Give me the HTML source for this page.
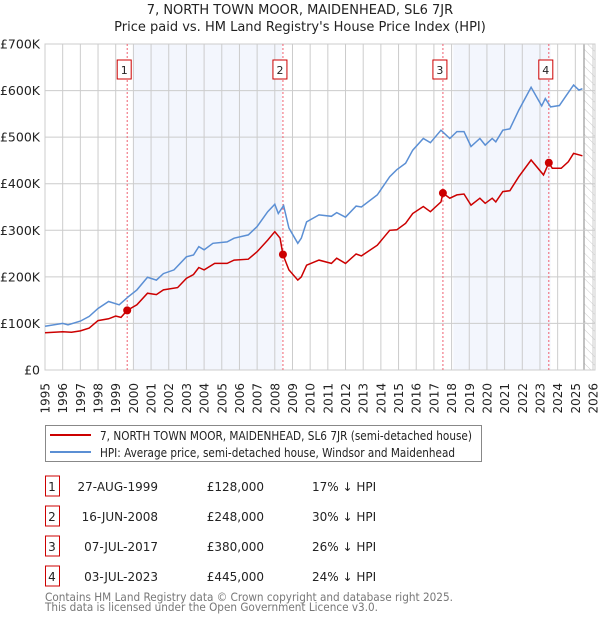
<!DOCTYPE html>
<html><head><meta charset="utf-8"><style>
body{margin:0;background:#fff;width:600px;height:620px;overflow:hidden;font-family:"DejaVu Sans","Liberation Sans",sans-serif;}
svg text{font-family:"DejaVu Sans","Liberation Sans",sans-serif;}
</style></head><body>
<svg id="chart" width="600" height="620" xmlns="http://www.w3.org/2000/svg">
<defs><pattern id="hatch" width="6" height="6" patternUnits="userSpaceOnUse" patternTransform="rotate(-45)"><line x1="0" y1="0" x2="0" y2="6" stroke="#ccc" stroke-width="1"/></pattern></defs>
<text x="300" y="14" text-anchor="middle" font-size="13" fill="#222">7, NORTH TOWN MOOR, MAIDENHEAD, SL6 7JR</text>
<text x="300" y="31" text-anchor="middle" font-size="13" fill="#222">Price paid vs. HM Land Registry's House Price Index (HPI)</text>
<g id="plot"></g>
<g>
<rect x="45.5" y="425.5" width="436" height="36" fill="#fff" stroke="#888"/>
<line x1="50" y1="435" x2="91" y2="435" stroke="#cc0000" stroke-width="2"/>
<text x="100" y="440" font-size="12" fill="#222" textLength="372" lengthAdjust="spacingAndGlyphs">7, NORTH TOWN MOOR, MAIDENHEAD, SL6 7JR (semi-detached house)</text>
<line x1="50" y1="452" x2="91" y2="452" stroke="#5b8fd4" stroke-width="2"/>
<text x="100" y="457" font-size="12" fill="#222" textLength="355" lengthAdjust="spacingAndGlyphs">HPI: Average price, semi-detached house, Windsor and Maidenhead</text>
</g>
<g id="table"></g>
<text x="45" y="601" font-size="11.5" fill="#777" textLength="408" lengthAdjust="spacingAndGlyphs">Contains HM Land Registry data © Crown copyright and database right 2025.</text>
<text x="45" y="611" font-size="11.5" fill="#777" textLength="333" lengthAdjust="spacingAndGlyphs">This data is licensed under the Open Government Licence v3.0.</text>
</svg>
<script>
const hpiYears=[1995,1996,1996.3,1997,1997.5,1998,1998.6,1999.2,1999.7,2000.2,2000.8,2001.3,2001.7,2002.3,2003,2003.4,2003.7,2004,2004.5,2005.3,2005.7,2006.5,2007,2007.6,2008,2008.2,2008.5,2008.8,2009.3,2009.5,2009.8,2010.5,2011.2,2011.5,2012,2012.6,2012.9,2013.8,2014.5,2014.9,2015.4,2015.8,2016.4,2016.8,2017.4,2017.9,2018.3,2018.7,2019.1,2019.6,2019.9,2020.3,2020.5,2020.9,2021.3,2021.8,2022.5,2023.1,2023.3,2023.6,2024.1,2024.5,2024.9,2025.2,2025.4];
const hpiValues=[94,100,97,105,115,132,147,140,157,172,199,193,207,215,243,247,265,258,272,275,283,290,308,340,356,336,353,305,272,283,318,333,330,338,328,352,350,376,415,430,444,472,497,488,515,497,512,512,480,497,483,497,490,515,518,558,607,567,583,565,568,590,612,601,604];
const paidYears=[1995,1996,1996.5,1997,1997.5,1998,1998.6,1999,1999.3,1999.65,2000.2,2000.8,2001.3,2001.7,2002.5,2003,2003.4,2003.7,2004,2004.6,2005.3,2005.7,2006.5,2007,2007.6,2008,2008.3,2008.46,2008.8,2009.3,2009.5,2009.8,2010.5,2011.2,2011.5,2012,2012.6,2012.9,2013.8,2014.5,2014.9,2015.4,2015.8,2016.4,2016.8,2017.4,2017.51,2017.9,2018.3,2018.7,2019.1,2019.6,2019.9,2020.3,2020.5,2020.9,2021.3,2021.8,2022.5,2023.2,2023.5,2023.7,2024.2,2024.6,2024.9,2025.2,2025.4];
const paidValues=[80,82,81,84,90,106,110,116,113,128,140,165,162,172,177,197,205,220,215,229,229,236,238,254,279,297,283,248,215,193,200,225,236,229,240,229,249,245,268,300,301,315,336,351,340,361,380,369,376,378,354,369,358,369,361,383,385,415,451,419,445,433,433,447,465,462,460];
const saleLabels=["1","2","3","4"];
const saleYears=[1999.65,2008.46,2017.51,2023.5];
const salePrices=[128,248,380,445];
const saleDates=["27-AUG-1999","16-JUN-2008","07-JUL-2017","03-JUL-2023"];
const salePriceText=["£128,000","£248,000","£380,000","£445,000"];
const saleHpiText=["17% ↓ HPI","30% ↓ HPI","26% ↓ HPI","24% ↓ HPI"];
const yTicks=[0,100,200,300,400,500,600,700];
const yTickLabels=["£0","£100K","£200K","£300K","£400K","£500K","£600K","£700K"];
const shadeBands=[[2000,2008.4],[2018.1,2023.6]];

const X0=45,X1=593,Y0=370,Y1=44;
const x=y=>X0+(y-1995)*(X1-X0)/31;
const yv=v=>Y0-v*(Y0-Y1)/700;
const NS="http://www.w3.org/2000/svg";
const plot=document.getElementById('plot');
function mk(tag,attrs,parent){const e=document.createElementNS(NS,tag);for(const k in attrs)e.setAttribute(k,attrs[k]);(parent||plot).appendChild(e);return e;}
for(const b of shadeBands){const r=mk('rect',{x:x(b[0]),y:Y1,width:x(b[1])-x(b[0]),height:Y0-Y1,fill:'#f3f6fd'});

}
const h=mk('rect',{x:584,y:Y1,width:595-584,height:Y0-Y1,fill:'url(#hatch)'});


mk('line',{x1:584,y1:Y1,x2:584,y2:Y0,stroke:'#999','stroke-width':1.2});
for(let yr=1995;yr<=2026;yr++){const l=mk('line',{x1:x(yr),y1:Y1,x2:x(yr),y2:Y0,stroke:'#ccc','stroke-width':1});


const t=mk('text',{x:0,y:0,'font-size':12,fill:'#222','text-anchor':'end',transform:`translate(${x(yr)+4.5},383) rotate(-90)`});t.textContent=yr;

}
yTicks.forEach((v,i)=>{const l=mk('line',{x1:X0,y1:yv(v),x2:595,y2:yv(v),stroke:'#ccc','stroke-width':1});


const t=mk('text',{x:40,y:yv(v)+4.5,'font-size':12.5,fill:'#222','text-anchor':'end'});t.textContent=yTickLabels[i];

});
mk('rect',{x:X0,y:Y1,width:595-X0,height:Y0-Y1,fill:'none',stroke:'#ccc'});
saleYears.forEach((s,i)=>{const l=mk('line',{x1:x(s),y1:Y1,x2:x(s),y2:Y0,stroke:'#f06070','stroke-width':1,'stroke-dasharray':'2,2'});


const r=mk('rect',{x:x(s)-10,y:60,width:14,height:19,fill:'#fff',stroke:'#cc0000'});


const t=mk('text',{x:x(s)-3,y:74,'font-size':11,fill:'#222','text-anchor':'middle'});t.textContent=saleLabels[i];

});
const line=(xs,vs)=>xs.map((a,i)=>(i?'L':'M')+x(a).toFixed(1)+','+yv(vs[i]).toFixed(1)).join('');
const hp=mk('path',{d:line(hpiYears,hpiValues),fill:'none',stroke:'#5b8fd4','stroke-width':1.5});


const pp=mk('path',{d:line(paidYears,paidValues),fill:'none',stroke:'#cc0000','stroke-width':1.5});


saleYears.forEach((s,i)=>{const c=mk('circle',{cx:x(s),cy:yv(salePrices[i]),r:4,fill:'#cc0000'});

});
const tb=document.getElementById('table');
saleLabels.forEach((lab,i)=>{const cy=486+i*30;
const r=mk('rect',{x:45.5,y:cy-10,width:14,height:20,fill:'#fff',stroke:'#cc0000'},tb);


const cells=[[52,lab,'middle','row-number'],[158,saleDates[i],'end','sale-date'],[264,salePriceText[i],'end','sale-price'],[312,saleHpiText[i],'start','hpi-diff']];
for(const c of cells){const t=mk('text',{x:c[0],y:cy+5,'font-size':12,fill:'#222','text-anchor':c[2]},tb);t.textContent=c[1];

}});
</script>
</body></html>
